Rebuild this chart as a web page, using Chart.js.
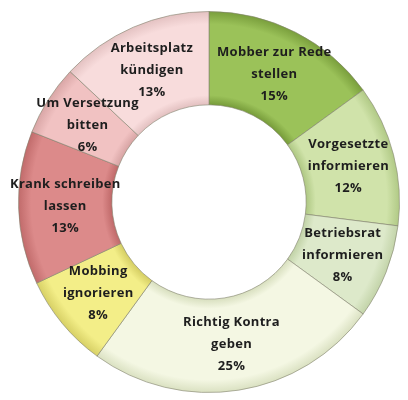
<!DOCTYPE html>
<html>
<head>
<meta charset="utf-8">
<script src="https://cdn.jsdelivr.net/npm/chart.js@4/dist/chart.umd.min.js"></script>
<style>
  html, body { margin: 0; padding: 0; background: #fff; }
  #wrap { width: 408px; height: 400px; }
</style>
</head>
<body>
<div id="wrap"><canvas id="mobbingChart" width="408" height="400"></canvas></div>
<script>
// Antworten (Beschriftung in Zeilen) und Anteile in Prozent
const labels = [
    ['Mobber zur Rede', 'stellen'],
    ['Vorgesetzte', 'informieren'],
    ['Betriebsrat', 'informieren'],
    ['Richtig Kontra', 'geben'],
    ['Mobbing', 'ignorieren'],
    ['Krank schreiben', 'lassen'],
    ['Um Versetzung', 'bitten'],
    ['Arbeitsplatz', 'kündigen']
];
const shares = [15, 12, 8, 25, 8, 13, 6, 13];

// Grundfarbe + dunklere Randfarbe je Segment
const baseColors = ['#9bc259', '#d0e3aa', '#dde9ca', '#f4f7e3', '#f3ee88', '#dc8a8a', '#f1c2c2', '#f8dcdc'];
const edgeColors = ['#789d3b', '#afc884', '#c2d3a8', '#d9e0c0', '#d6cf64', '#c06a6a', '#d8a5a5', '#e3c1c1'];

function sliceFill(context) {
    const chart = context.chart;
    const area = chart.chartArea;
    const i = context.dataIndex;
    if (!area) return baseColors[i];
    const cx = (area.left + area.right) / 2;
    const cy = (area.top + area.bottom) / 2;
    const outer = Math.min(area.right - area.left, area.bottom - area.top) / 2;
    const inner = outer * 0.51;
    const g = chart.ctx.createRadialGradient(cx, cy, inner, cx, cy, outer);
    g.addColorStop(0, edgeColors[i]);
    g.addColorStop(0.1, baseColors[i]);
    g.addColorStop(0.86, baseColors[i]);
    g.addColorStop(1, edgeColors[i]);
    return g;
}

// Beschriftung mitten im Segment
const sliceLabels = {
    id: 'sliceLabels',
    afterDatasetsDraw(chart) {
        const ctx = chart.ctx;
        const meta = chart.getDatasetMeta(0);
        ctx.save();
        ctx.font = 'bold 13px "Open Sans", sans-serif';
        ctx.letterSpacing = '0.3px';
        ctx.fillStyle = '#1e1e1e';
        ctx.textAlign = 'center';
        ctx.textBaseline = 'middle';
        meta.data.forEach((arc, i) => {
            const pos = arc.tooltipPosition();
            const lines = labels[i].concat([shares[i] + '%']);
            const lh = 22;
            const y0 = pos.y - (lines.length - 1) * lh / 2;
            lines.forEach((t, k) => ctx.fillText(t, pos.x, y0 + k * lh));
        });
        ctx.restore();
    }
};

const ctx = document.getElementById('mobbingChart').getContext('2d');
const mobbingChart = new Chart(ctx, {
    type: 'doughnut',
    data: {
        labels: labels,
        datasets: [{
            data: shares,
            backgroundColor: sliceFill,
            borderColor: 'rgba(130, 130, 110, 0.6)',
            borderWidth: 1
        }]
    },
    options: {
        responsive: false,
        animation: false,
        cutout: '51%',
        layout: { padding: { top: 11, bottom: 7, left: 18, right: 8 } },
        plugins: {
            legend: { display: false },
            tooltip: { enabled: false }
        }
    },
    plugins: [sliceLabels]
});
</script>
</body>
</html>
